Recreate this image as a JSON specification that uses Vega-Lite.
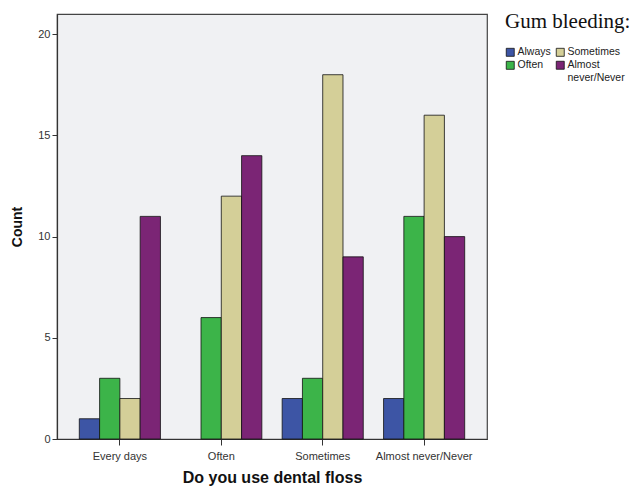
{
  "$schema": "https://vega.github.io/schema/vega-lite/v6.json",
  "autosize": "none",
  "width": 430,
  "height": 425,
  "padding": {"left": 57, "top": 14, "right": 150, "bottom": 47},
  "background": "white",
  "data": {"values": [
    {"floss": "Every days", "bleeding": "Always", "count": 1},
    {"floss": "Every days", "bleeding": "Often", "count": 3},
    {"floss": "Every days", "bleeding": "Sometimes", "count": 2},
    {"floss": "Every days", "bleeding": "Almost never/Never", "count": 11},
    {"floss": "Often", "bleeding": "Always", "count": 0},
    {"floss": "Often", "bleeding": "Often", "count": 6},
    {"floss": "Often", "bleeding": "Sometimes", "count": 12},
    {"floss": "Often", "bleeding": "Almost never/Never", "count": 14},
    {"floss": "Sometimes", "bleeding": "Always", "count": 2},
    {"floss": "Sometimes", "bleeding": "Often", "count": 3},
    {"floss": "Sometimes", "bleeding": "Sometimes", "count": 18},
    {"floss": "Sometimes", "bleeding": "Almost never/Never", "count": 9},
    {"floss": "Almost never/Never", "bleeding": "Always", "count": 2},
    {"floss": "Almost never/Never", "bleeding": "Often", "count": 11},
    {"floss": "Almost never/Never", "bleeding": "Sometimes", "count": 16},
    {"floss": "Almost never/Never", "bleeding": "Almost never/Never", "count": 10}
  ]},
  "mark": {"type": "bar", "stroke": "#111", "strokeWidth": 0.8},
  "encoding": {
    "x": {
      "field": "floss", "type": "nominal",
      "sort": ["Every days", "Often", "Sometimes", "Almost never/Never"],
      "scale": {"paddingInner": 0.2, "paddingOuter": 0.22},
      "axis": {"title": "Do you use dental floss", "labelAngle": 0, "titleFontSize": 16, "titleFontWeight": "bold", "titlePadding": 8, "labelPadding": 5, "tickSize": 6}
    },
    "xOffset": {
      "field": "bleeding", "type": "nominal",
      "sort": ["Always", "Often", "Sometimes", "Almost never/Never"]
    },
    "y": {
      "field": "count", "type": "quantitative",
      "scale": {"domain": [0, 21], "nice": false},
      "axis": {"title": "Count", "values": [0, 5, 10, 15, 20], "grid": false, "titleFontSize": 14, "titleFontWeight": "bold", "titlePadding": 13, "tickSize": 5, "labelPadding": 2}
    },
    "strokeOpacity": {"condition": {"test": "datum.count == 0", "value": 0}, "value": 1},
    "color": {
      "field": "bleeding", "type": "nominal",
      "scale": {
        "domain": ["Always", "Often", "Sometimes", "Almost never/Never"],
        "range": ["#3d55a5", "#3cb449", "#d4cf98", "#7b2575"]
      },
      "legend": {
        "title": "Gum bleeding:",
        "orient": "none",
        "legendX": 448,
        "legendY": -3,
        "columns": 2,
        "columnPadding": 3,
        "rowPadding": 1,
        "symbolType": "square",
        "symbolSize": 64,
        "symbolStrokeColor": "#111",
        "symbolStrokeWidth": 0.8,
        "labelFont": "Liberation Sans",
        "labelFontSize": 10.5,
        "labelColor": "#222",
        "labelOffset": 2,
        "labelExpr": "datum.label == 'Almost never/Never' ? ['Almost', 'never/Never'] : datum.label",
        "titleFont": "Liberation Serif",
        "titleFontSize": 21,
        "titleFontWeight": "normal",
        "titleColor": "#111",
        "titlePadding": 15,
        "titleLimit": 200
      }
    }
  },
  "config": {
    "view": {"fill": "#f0f1f3", "stroke": "#444", "strokeWidth": 1.2},
    "axis": {
      "labelFont": "Liberation Sans", "labelFontSize": 11, "labelColor": "#333",
      "titleFont": "Liberation Sans", "titleColor": "#111",
      "domainColor": "#333", "tickColor": "#333", "domainWidth": 1.2
    }
  }
}
